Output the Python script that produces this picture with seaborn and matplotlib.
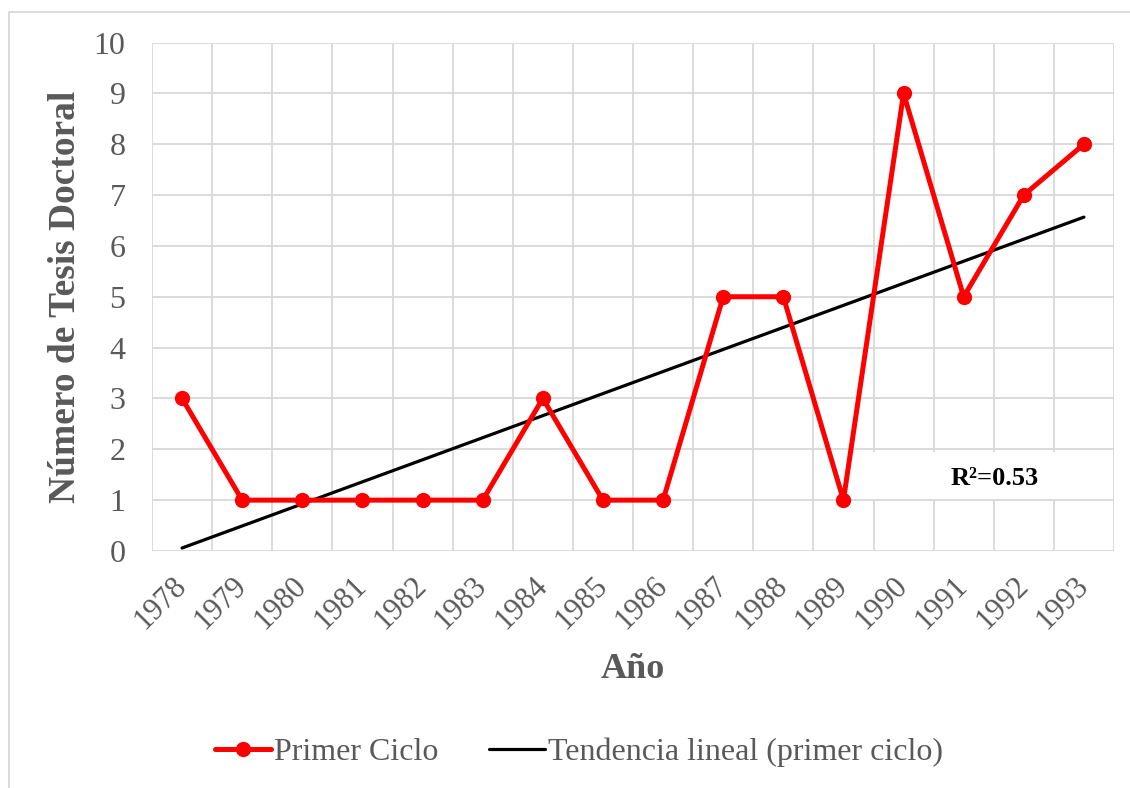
import matplotlib
matplotlib.use("Agg")
import matplotlib.pyplot as plt
import matplotlib.patches as mpatches
import matplotlib.transforms as mtrans
from matplotlib.lines import Line2D
import numpy as np
import pandas as pd
import seaborn as sns

# ---- data ----
years = [1978, 1979, 1980, 1981, 1982, 1983, 1984, 1985,
         1986, 1987, 1988, 1989, 1990, 1991, 1992, 1993]
primer_ciclo = [3, 1, 1, 1, 1, 1, 3, 1, 1, 5, 5, 1, 9, 5, 7, 8]
y_ticks = [0, 1, 2, 3, 4, 5, 6, 7, 8, 9, 10]
series_label = "Primer Ciclo"
trend_label = "Tendencia lineal (primer ciclo)"
r2_text = "R²=0.53"
x_title = "Año"
y_title = "Número de Tesis Doctoral"

df = pd.DataFrame({"year": years, "value": primer_ciclo})

sns.set_theme(style="white")
plt.rcParams["font.family"] = ["Liberation Serif", "DejaVu Serif"]

GRAY_TXT = "#595959"
GRID = "#D9D9D9"
RED = "#FF0000"

fig = plt.figure(figsize=(11.3, 7.88), dpi=100)
ax = fig.add_axes([152 / 1130, 1 - 551 / 788, (1114 - 152) / 1130, (551 - 42.5) / 788])

# outer chart border
fig.patches.append(mpatches.Rectangle((9 / 1130, -0.05), 1.2, 1 - 12 / 788 + 0.05,
                                      transform=fig.transFigure, fill=False,
                                      edgecolor=GRID, linewidth=1.3, zorder=0))

# trend line (linear regression of the series)
sns.regplot(data=df, x="year", y="value", scatter=False, ci=None, truncate=True,
            color="black", line_kws={"linewidth": 2.3, "zorder": 3}, ax=ax)

# main series
sns.lineplot(data=df, x="year", y="value", color=RED, linewidth=3.6,
             marker="o", markersize=11, markeredgewidth=0, ax=ax, zorder=4)

ax.set_xlim(years[0] - 0.5, years[-1] + 0.5)
ax.set_ylim(y_ticks[0], y_ticks[-1])
ax.set_yticks(y_ticks)
ax.set_xticks(years)
ax.set_xticklabels([str(y) for y in years], rotation=45, ha="right",
                   rotation_mode="anchor", va="center")
ax.set_xticks([y + 0.5 for y in [years[0] - 1] + years], minor=True)

shift = mtrans.ScaledTranslation(4 / 100, 0, fig.dpi_scale_trans)
for lbl in ax.get_xticklabels():
    lbl.set_transform(lbl.get_transform() + shift)

ax.grid(False)
ax.grid(True, which="minor", axis="x", color=GRID, linewidth=1.3)
ax.grid(True, which="major", axis="y", color=GRID, linewidth=1.3)
ax.set_axisbelow(True)
for s in ax.spines.values():
    s.set_visible(False)

ax.tick_params(axis="y", which="both", length=0, pad=19, labelsize=23, labelcolor=GRAY_TXT)
ax.tick_params(axis="x", which="major", length=0, pad=22, labelsize=22, labelcolor=GRAY_TXT)
ax.tick_params(axis="x", which="minor", length=0)

ax.set_xlabel(x_title, fontsize=26, fontweight="bold", color=GRAY_TXT, va="center")
ax.xaxis.set_label_coords(0.5, -0.234)
ax.set_ylabel(y_title, fontsize=27, fontweight="bold", color=GRAY_TXT, va="center")
ax.yaxis.set_label_coords(-0.0895, 0.5)

# R² box
ax.add_patch(mpatches.Rectangle((0.749, 0.102), 0.25, 0.093, transform=ax.transAxes,
                                facecolor="white", edgecolor="none", zorder=2.5))
ax.text(0.876, 0.143, r2_text, transform=ax.transAxes, ha="center", va="center",
        fontsize=19, fontweight="bold", color="black", zorder=5)

# legend
handles = [Line2D([], [], color=RED, linewidth=3.6, marker="o", markersize=11,
                  markeredgewidth=0),
           Line2D([], [], color="black", linewidth=2.3)]
leg = fig.legend(handles, [series_label, trend_label], loc="center",
                 bbox_to_anchor=(579 / 1130, 1 - 752 / 788), ncol=2, frameon=False,
                 fontsize=23, handlelength=1.75, handletextpad=0.1, columnspacing=1.6)
for t in leg.get_texts():
    t.set_color(GRAY_TXT)

fig.savefig("out.png", dpi=100)
